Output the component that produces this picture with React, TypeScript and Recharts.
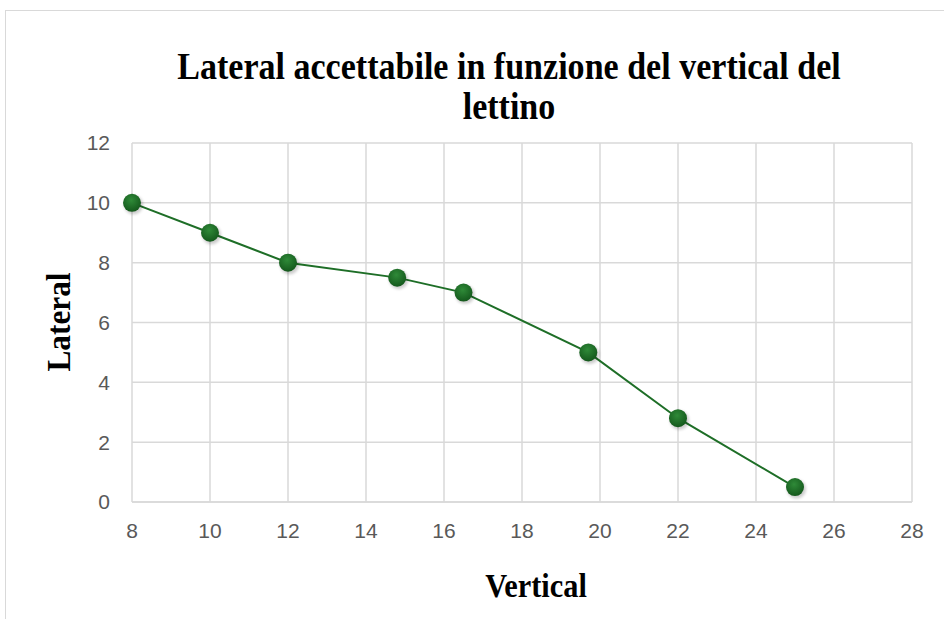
import { LineChart, Line, XAxis, YAxis, CartesianGrid } from "recharts";

const verticalValues = [8, 10, 12, 14.8, 16.5, 19.7, 22, 25];
const lateralValues = [10, 9, 8, 7.5, 7, 5, 2.8, 0.5];
const xTicks = [8, 10, 12, 14, 16, 18, 20, 22, 24, 26, 28];
const yTicks = [0, 2, 4, 6, 8, 10, 12];

const data = verticalValues.map((v, i) => ({ vertical: v, lateral: lateralValues[i] }));

const tickStyle = { fill: "#595959", fontFamily: "Liberation Sans, Arial", fontSize: 21 };
const serif = "Liberation Serif, Times New Roman, serif";

function Dot(props: any) {
  const { cx, cy, index } = props;
  if (cx == null || cy == null) return null;
  return (
    <g key={index}>
      <circle cx={cx + 1.5} cy={cy + 2} r={9.5} fill="#000" opacity={0.2} filter="url(#blur)" />
      <circle cx={cx} cy={cy} r={9} fill="url(#dotGrad)" />
    </g>
  );
}

export default function App() {
  return (
    <div style={{ position: "fixed", left: 0, top: 0, width: 944, height: 619, background: "#fff", overflow: "hidden" }}>
      <div
        style={{
          position: "absolute", left: 5, top: 10, width: 960, height: 640,
          border: "1.5px solid #d9d9d9", boxSizing: "border-box",
        }}
      />
      <div style={{ position: "absolute", left: 0, top: 0 }}>
        <LineChart width={944} height={619} data={data} margin={{ top: 143, right: 32, left: 72, bottom: 87 }}>
          <defs>
            <radialGradient id="dotGrad" cx="45%" cy="35%" r="65%">
              <stop offset="0%" stopColor="#2f8a38" />
              <stop offset="100%" stopColor="#14581c" />
            </radialGradient>
            <filter id="blur" x="-50%" y="-50%" width="200%" height="200%">
              <feGaussianBlur stdDeviation="1.5" />
            </filter>
          </defs>
          <CartesianGrid stroke="#d9d9d9" strokeWidth={1.5} />
          <XAxis
            dataKey="vertical"
            type="number"
            domain={[8, 28]}
            ticks={xTicks}
            tick={tickStyle}
            tickLine={false}
            tickSize={0}
            tickMargin={21}
            axisLine={{ stroke: "#d9d9d9", strokeWidth: 1.5 }}
            height={30}
          />
          <YAxis
            type="number"
            domain={[0, 12]}
            ticks={yTicks}
            tick={tickStyle}
            tickLine={false}
            tickSize={0}
            tickMargin={22}
            axisLine={false}
            width={60}
          />
          <Line
            dataKey="lateral"
            stroke="#1e6e27"
            strokeWidth={2}
            dot={<Dot />}
            activeDot={false}
            isAnimationActive={false}
          />
          <g transform="translate(509 0) scale(0.92 1)">
            <text x={0} y={79} textAnchor="middle" fontFamily={serif} fontWeight="bold" fontSize={37} fill="#000">
              Lateral accettabile in funzione del vertical del
            </text>
            <text x={0} y={119} textAnchor="middle" fontFamily={serif} fontWeight="bold" fontSize={37} fill="#000">
              lettino
            </text>
          </g>
          <g transform="translate(536 597) scale(0.92 1)">
            <text x={0} y={0} textAnchor="middle" fontFamily={serif} fontWeight="bold" fontSize={33} fill="#000">
              Vertical
            </text>
          </g>
          <g transform="translate(70 322) rotate(-90) scale(0.92 1)">
            <text x={0} y={0} textAnchor="middle" fontFamily={serif} fontWeight="bold" fontSize={34} fill="#000">
              Lateral
            </text>
          </g>
        </LineChart>
      </div>
    </div>
  );
}
